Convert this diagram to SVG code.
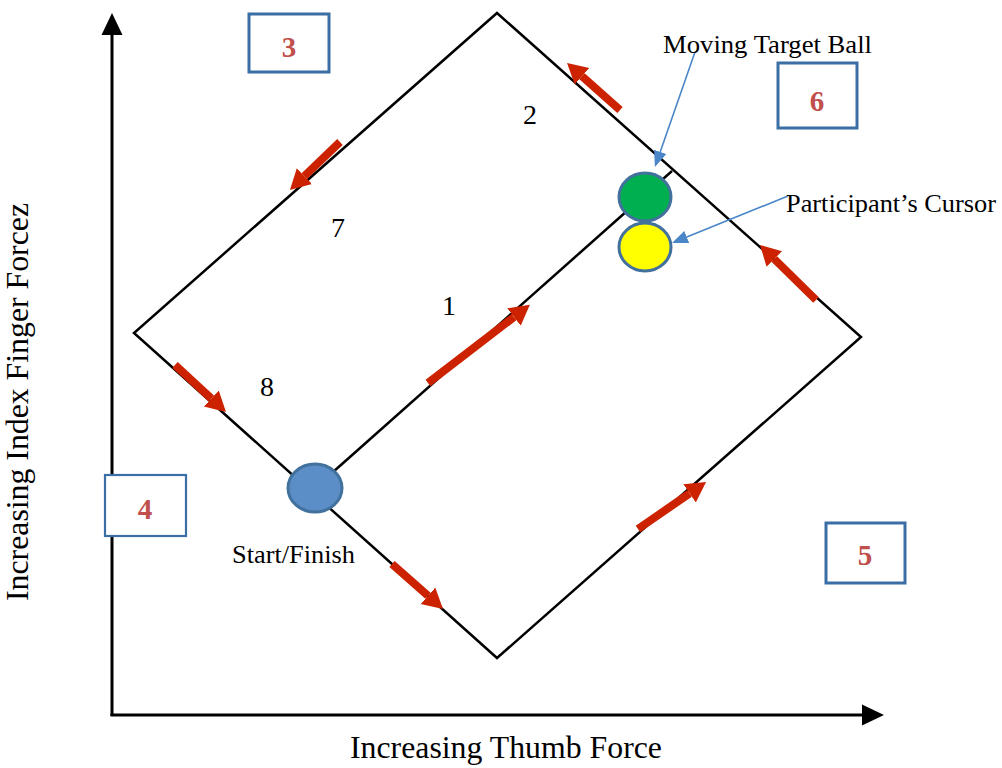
<svg xmlns="http://www.w3.org/2000/svg" width="1002" height="768" viewBox="0 0 1002 768">
<style>
.edge{fill:none;stroke:#000;stroke-width:2.5;stroke-linejoin:miter}
.axis{stroke:#000;stroke-width:3}
.red{stroke:#cc2200;stroke-width:8;marker-end:url(#redHead)}
.call{stroke:#4a86c8;stroke-width:1.6;marker-end:url(#blueHead)}
.box{fill:#fff;stroke:#3b6ea5;stroke-width:3}
.boxnum{font-family:"Liberation Serif",serif;font-weight:bold;font-size:29px;fill:#c0504d;text-anchor:middle}
.lbl{font-family:"Liberation Serif",serif;fill:#000}
.num{font-family:"Liberation Serif",serif;font-size:28px;fill:#000;text-anchor:middle}
.ball{stroke:#41719c;stroke-width:3}
</style>
<defs>
<marker id="redHead" markerUnits="userSpaceOnUse" markerWidth="22" markerHeight="24" viewBox="0 -12 22 24" refX="0" refY="0" orient="auto">
<path d="M0,-11 L20,0 L0,11 z" fill="#cc2200"/>
</marker>
<marker id="blueHead" markerUnits="userSpaceOnUse" markerWidth="18" markerHeight="14" viewBox="0 -7 18 14" refX="0" refY="0" orient="auto">
<path d="M0,-6.5 L16,0 L0,6.5 z" fill="#4a86c8"/>
</marker>
</defs>
<rect width="1002" height="768" fill="#fff"/>
<g id="axes">
<line class="axis" x1="112" y1="716" x2="112" y2="34"/>
<path d="M101.5,35 L112,13 L122.5,35 z" fill="#000"/>
<line class="axis" x1="110.5" y1="715" x2="863" y2="715"/>
<path d="M862,704.5 L884,715 L862,725.5 z" fill="#000"/>
</g>
<g id="diamond">
<path class="edge" d="M497,13 L861,337 L497,658 L134,333 z"/>
</g>
<g id="connectors">
<line class="edge" x1="315" y1="488" x2="672" y2="171"/>
</g>
<g id="box3"><rect class="box" x="249" y="14" width="80" height="58"/><text class="boxnum" x="289" y="57">3</text></g>
<g id="box6"><rect class="box" x="778" y="63" width="79" height="65"/><text class="boxnum" x="817" y="111">6</text></g>
<g id="box4"><rect class="box" x="105" y="475" width="81" height="61" style="stroke-width:2.2"/><text class="boxnum" x="145" y="519">4</text></g>
<g id="box5"><rect class="box" x="826" y="523" width="79" height="60"/><text class="boxnum" x="865" y="565">5</text></g>
<g id="startBall"><ellipse class="ball" cx="315" cy="488" rx="27" ry="24" fill="#5b8ec6" stroke="#3f6a96"/></g>
<g id="targetBall"><ellipse class="ball" cx="645" cy="197" rx="26" ry="24" fill="#00b050"/></g>
<g id="cursorBall"><ellipse class="ball" cx="645" cy="247" rx="26" ry="24" fill="#ffff00"/></g>
<g id="flowArrows">
<line class="red" x1="620" y1="110" x2="582" y2="76.3"/>
<line class="red" x1="340" y1="142" x2="304.4" y2="176.1"/>
<line class="red" x1="175" y1="365" x2="211.3" y2="398.5"/>
<line class="red" x1="392" y1="564" x2="428" y2="595.8"/>
<line class="red" x1="638" y1="529" x2="689.6" y2="493.4"/>
<line class="red" x1="816" y1="300" x2="774.3" y2="259"/>
<line class="red" x1="428" y1="383" x2="514" y2="317"/>
</g>
<g id="callouts">
<line class="call" x1="695" y1="52" x2="660.2" y2="151.9"/>
<line class="call" x1="788" y1="196" x2="686.8" y2="237"/>
</g>
<g id="labels">
<text class="num" x="530" y="124">2</text>
<text class="num" x="338" y="237">7</text>
<text class="num" x="449" y="315">1</text>
<text class="num" x="267" y="396">8</text>
<text class="lbl" x="232" y="563" font-size="25" textLength="123" lengthAdjust="spacingAndGlyphs">Start/Finish</text>
<text class="lbl" x="663" y="53" font-size="26" textLength="209" lengthAdjust="spacingAndGlyphs">Moving Target Ball</text>
<text class="lbl" x="786" y="212" font-size="26" textLength="210" lengthAdjust="spacingAndGlyphs">Participant’s Cursor</text>
<text class="lbl" x="350" y="758" font-size="31" textLength="312" lengthAdjust="spacingAndGlyphs">Increasing Thumb Force</text>
<text class="lbl" transform="translate(28,601) rotate(-90)" font-size="31" textLength="398" lengthAdjust="spacingAndGlyphs">Increasing Index Finger Forcez</text>
</g>
</svg>
